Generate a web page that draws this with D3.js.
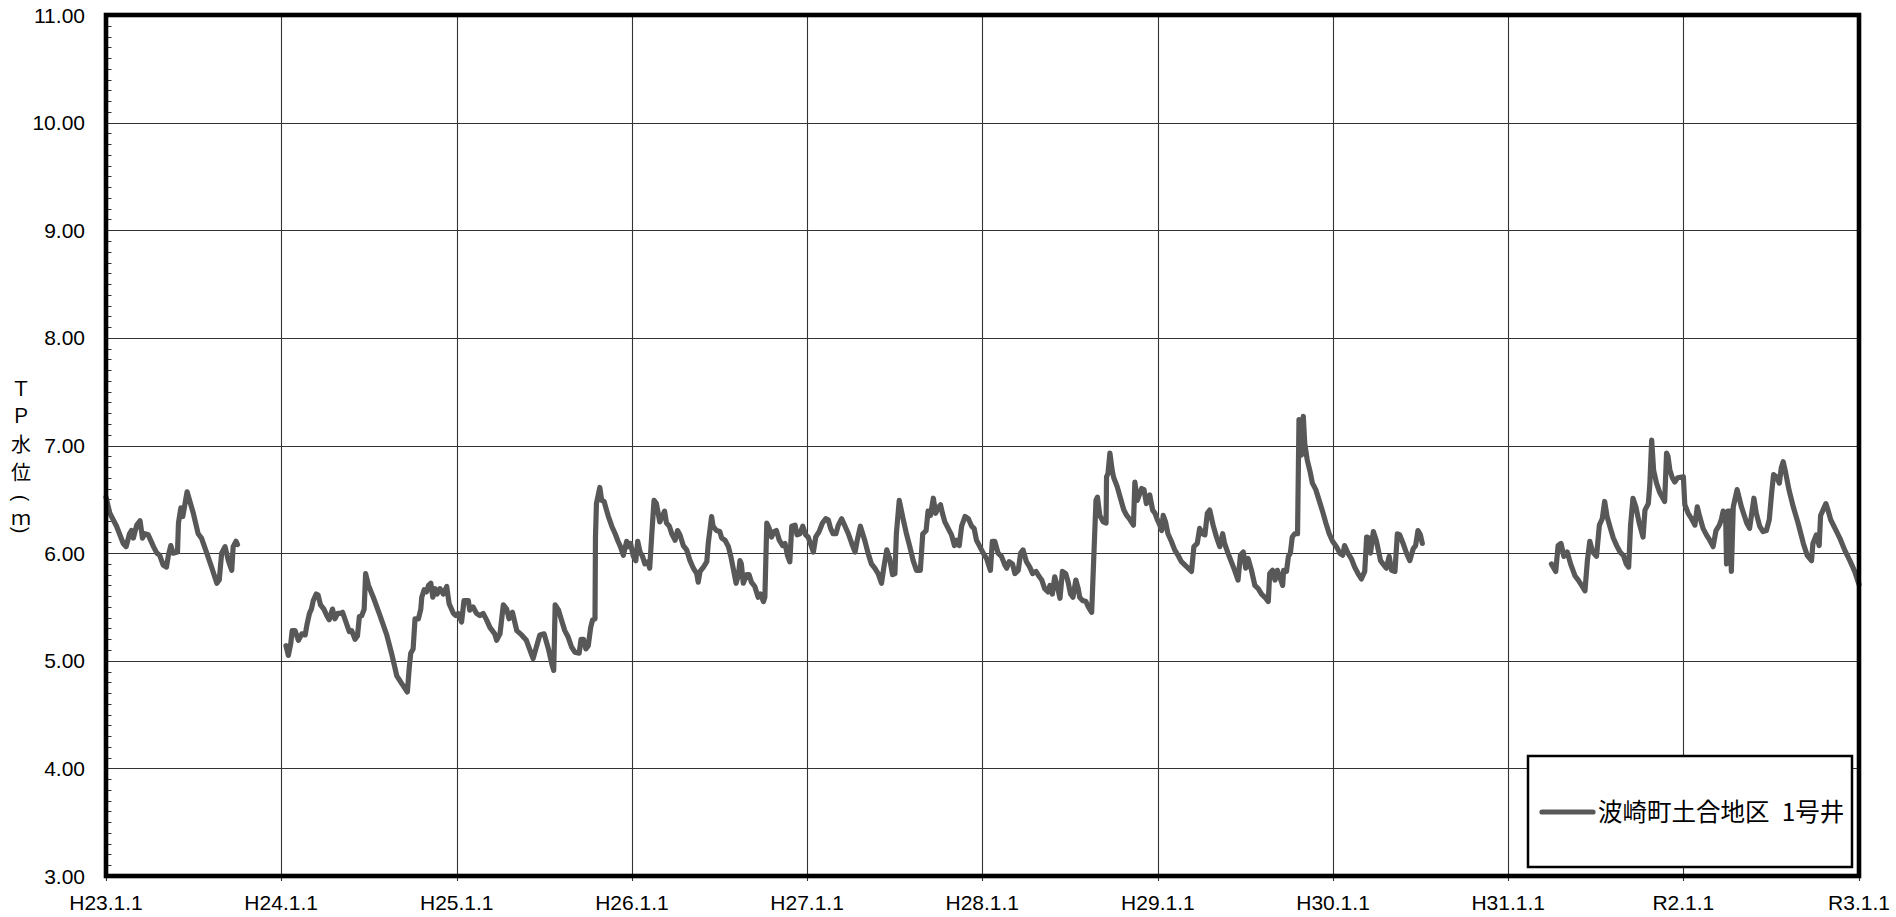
<!DOCTYPE html>
<html><head><meta charset="utf-8">
<script src="https://cdn.jsdelivr.net/npm/d3@7"></script>
<style>html,body{margin:0;padding:0;background:#fff;overflow:hidden}</style>
</head><body><svg id="chart" width="1896" height="917"></svg>
<script>
// ---------------- DATA ----------------
// Observation day = days elapsed since H23.1.1 (2011-01-01)
const startDate = "2011-01-01";
const yearTicks = ["2011-01-01","2012-01-01","2013-01-01","2014-01-01","2015-01-01","2016-01-01",
                   "2017-01-01","2018-01-01","2019-01-01","2020-01-01","2021-01-01"];
const yearLabels = ["H23.1.1","H24.1.1","H25.1.1","H26.1.1","H27.1.1","H28.1.1",
                    "H29.1.1","H30.1.1","H31.1.1","R2.1.1","R3.1.1"];
const yTickValues = [3,4,5,6,7,8,9,10,11];
const seriesName = "波崎町土合地区\u20021号井";
const yTitleChars = ["Ｔ","Ｐ","水","位","(","ｍ",")"];

// Segment 1: H23.1 – H23.10
const seg1Days = [0,8,22,36,42,49,53,57,64,71,76,81,88,99,106,112,119,126,130,135,140,149,151,156,160,169,182,192,199,210,220,231,236,241,248,255,262,265,271,274];
const seg1Levels = [6.52,6.37,6.25,6.09,6.06,6.18,6.21,6.14,6.26,6.30,6.14,6.18,6.17,6.06,6.00,5.98,5.89,5.87,5.98,6.07,6.00,6.01,6.28,6.42,6.34,6.57,6.37,6.18,6.14,6.00,5.87,5.72,5.75,6.00,6.06,5.93,5.84,6.06,6.11,6.08];

// Segment 2: H24.1 – H30.7
const seg2Days = [375,380,385,388,394,401,408,415,419,424,428,432,438,442,447,454,460,465,472,477,483,488,493,500,507,512,519,524,528,533,538,541,547,557,571,585,595,606,616,628,632,635,640,644,651,656,658,663,668,672,677,681,686,690,696,703,710,715,724,729,734,741,746,755,758,765,772,779,786,793,800,810,814,821,828,835,840,847,856,866,876,890,897,904,913,922,929,933,
936,943,949,956,963,970,977,986,990,995,1000,1005,1010,1014,1019,1020,1022,1029,1033,1038,1043,1047,1054,1061,1067,1072,1078,1085,1088,1093,1099,1104,1108,1113,1118,1123,1129,1133,1137,1142,1147,1154,1160,1164,1168,1174,1179,1186,1191,1196,1203,1210,1217,1224,1231,1234,1238,1245,1252,1255,1262,1265,1272,1279,1283,1290,1297,1302,1307,1313,1318,1321,1324,1328,1335,1340,1345,1352,1359,1364,1370,1373,1377,1382,1387,1392,1397,1403,1410,1415,1420,1425,1429,1436,1440,1446,1452,1458,1463,1468,1474,1479,1486,1493,1500,1505,1510,1515,1521,1526,1533,1540,1547,1554,1561,1565,1572,1581,1588,1595,1602,1609,1616,1621,1627,1633,1639,1644,1647,1653,1661,1668,1675,1682,1689,1697,1702,1709,1713,1718,1724,1729,1734,1739,1743,1748,1755,1762,1768,1772,1778,1783,1790,1797,1804,1809,1814,1821,1828,1835,1843,1847,1852,1859,1866,1873,1877,
1882,1889,1894,1901,1906,1911,1918,1925,1931,1938,1945,1950,1956,1963,1967,1972,1977,1982,1988,1993,2000,2005,2010,2015,2021,2026,2029,2035,2042,2047,2054,2059,2063,2066,2071,2078,2084,2085,2088,2092,2097,2100,2107,2114,2121,2127,2134,2141,2144,2149,2153,2158,2163,2168,2175,2181,2186,2191,2196,2200,2203,2208,2213,2220,2227,2234,2241,2248,2255,2262,2267,2274,2279,2285,2290,2295,2300,2307,2314,2321,2327,2331,2338,2345,2352,2359,2364,2370,2375,2380,2387,2394,2401,2408,2415,2422,2425,2431,2436,2441,2446,2452,2454,2460,2464,2468,2472,2477,2483,2486,2491,2495,2498,2503,2509,2514,2521,2528,2535,2542,2549,2556,2564,2571,2577,2581,2588,2595,2602,2609,2616,2623,2627,2632,2635,2641,2647,2656,2661,2668,2674,2679,2686,2691,2696,2703,2710,2717,2724,2729,2734,2739,2743];
const seg2Levels = [5.14,5.05,5.16,5.28,5.28,5.19,5.25,5.24,5.34,5.44,5.48,5.56,5.62,5.61,5.52,5.48,5.42,5.38,5.48,5.39,5.44,5.44,5.45,5.36,5.27,5.28,5.20,5.23,5.41,5.42,5.48,5.81,5.70,5.59,5.42,5.24,5.07,4.86,4.79,4.71,4.94,5.07,5.11,5.39,5.39,5.48,5.59,5.66,5.64,5.70,5.72,5.59,5.67,5.62,5.67,5.62,5.69,5.53,5.44,5.42,5.44,5.36,5.56,5.56,5.47,5.50,5.44,5.42,5.44,5.38,5.31,5.25,5.19,5.25,5.52,5.48,5.39,5.45,5.28,5.24,5.19,5.02,5.13,5.24,5.25,5.11,4.97,4.91,
5.52,5.47,5.38,5.28,5.22,5.13,5.08,5.07,5.20,5.20,5.11,5.14,5.31,5.38,5.39,6.15,6.46,6.61,6.49,6.48,6.40,6.34,6.25,6.18,6.11,6.06,5.98,6.11,6.06,6.09,5.97,5.93,6.11,6.01,5.97,5.90,5.92,5.86,6.15,6.49,6.46,6.29,6.35,6.39,6.28,6.25,6.18,6.12,6.21,6.17,6.07,6.03,5.93,5.86,5.81,5.73,5.83,5.87,5.92,6.09,6.34,6.25,6.21,6.20,6.14,6.12,6.06,5.97,5.86,5.72,5.80,5.93,5.90,5.72,5.80,5.80,5.73,5.69,5.59,5.62,5.55,5.59,6.28,6.23,6.15,6.20,6.21,6.12,6.07,6.09,5.98,5.92,6.25,6.26,6.17,6.18,6.25,6.17,6.15,6.09,6.01,6.15,6.20,6.28,6.32,6.31,6.23,6.18,6.18,6.26,6.32,6.25,6.18,6.09,6.01,6.11,6.25,6.12,6.00,5.90,5.86,5.81,5.72,5.87,6.03,5.95,5.80,5.81,6.18,6.49,6.32,6.18,6.06,5.93,5.84,5.84,6.18,6.21,6.39,6.35,6.51,6.37,6.42,6.45,6.37,6.29,6.23,6.17,6.07,6.12,6.07,6.25,6.34,6.32,6.25,6.23,6.12,6.06,6.00,5.95,5.84,6.11,6.11,6.00,5.97,5.89,5.86,
5.92,5.90,5.81,5.84,6.00,6.03,5.92,5.87,5.81,5.83,5.78,5.75,5.67,5.64,5.70,5.62,5.78,5.70,5.58,5.83,5.81,5.73,5.62,5.59,5.75,5.67,5.59,5.56,5.55,5.50,5.45,6.03,6.49,6.52,6.35,6.29,6.28,6.71,6.74,6.93,6.76,6.70,6.62,6.51,6.40,6.35,6.31,6.26,6.66,6.49,6.54,6.60,6.59,6.46,6.54,6.40,6.37,6.31,6.26,6.21,6.35,6.29,6.18,6.11,6.03,5.98,5.92,5.89,5.86,5.83,6.06,6.09,6.23,6.18,6.17,6.37,6.40,6.26,6.15,6.06,6.18,6.09,6.00,5.92,5.84,5.75,5.98,6.01,5.86,5.95,5.84,5.70,5.67,5.62,5.59,5.55,5.81,5.84,5.75,5.84,5.78,5.70,5.84,5.83,5.97,6.00,6.15,6.18,6.18,7.24,6.91,7.27,7.02,6.87,6.76,6.65,6.59,6.49,6.39,6.28,6.18,6.11,6.06,6.00,5.98,6.07,6.00,5.95,5.87,5.81,5.76,5.83,6.15,6.14,6.00,6.20,6.12,5.93,5.90,5.86,5.97,5.84,5.83,6.18,6.17,6.09,6.00,5.93,6.04,6.07,6.21,6.17,6.09];

// Segment 3: H31.3 – R3.1
const seg3Days = [3012,3021,3026,3032,3038,3045,3052,3061,3068,3075,3082,3087,3092,3098,3106,3112,3118,3123,3128,3135,3141,3148,3155,3162,3168,3173,3177,3182,3188,3195,3203,3207,3214,3217,3221,3225,3231,3238,3248,3252,3255,3259,3264,3269,3275,3287,3290,3297,3304,3311,3316,3321,3328,3335,3342,3349,3355,3362,3366,3370,3375,3377,3380,3384,3387,3391,3399,3408,3419,3425,3434,3439,3446,3453,3460,3466,3471,3475,3481,3487,3491,3495,3500,3507,3516,3526,3537,3545,3554,3557,3564,3570,3573,3578,3584,3589,3594,3603,3613,3623,3634,3644,3653];
const seg3Levels = [5.90,5.83,6.07,6.09,5.97,6.01,5.90,5.79,5.75,5.70,5.65,5.93,6.11,6.01,5.97,6.26,6.32,6.48,6.34,6.23,6.14,6.07,6.01,5.98,5.90,5.87,6.26,6.51,6.43,6.28,6.15,6.40,6.46,6.63,7.05,6.77,6.65,6.56,6.48,6.93,6.90,6.77,6.70,6.66,6.70,6.71,6.45,6.37,6.32,6.26,6.43,6.34,6.23,6.17,6.12,6.06,6.21,6.26,6.31,6.39,6.37,5.90,6.39,6.39,5.83,6.43,6.59,6.43,6.28,6.23,6.51,6.37,6.25,6.20,6.21,6.31,6.56,6.73,6.71,6.65,6.79,6.85,6.75,6.59,6.43,6.28,6.09,5.98,5.93,6.09,6.17,6.07,6.35,6.40,6.46,6.39,6.31,6.23,6.14,6.03,5.93,5.83,5.71];

// ---------------- CHART ----------------
const M = {left:106, top:15, right:1859, bottom:876};
const svg = d3.select("#chart");
const parse = d3.timeParse("%Y-%m-%d");
const t0 = parse(startDate);

const x = d3.scaleTime().domain([parse(yearTicks[0]), parse(yearTicks[yearTicks.length-1])]).range([M.left, M.right]);
const y = d3.scaleLinear().domain([3, 11]).range([M.bottom, M.top]);

const segments = [[seg1Days, seg1Levels],[seg2Days, seg2Levels],[seg3Days, seg3Levels]]
  .map(([ds, vs]) => ds.map((d,i) => ({date: d3.timeDay.offset(t0, d), v: vs[i]})));

const textFont = "'Liberation Sans', Arial, sans-serif";
const cjkFont = "'Noto Sans CJK JP', 'Noto Sans CJK SC', sans-serif";

// gridlines
const grid = svg.append("g");
grid.selectAll("line.h").data(yTickValues).join("line")
  .attr("x1", M.left).attr("x2", M.right)
  .attr("y1", d => Math.round(y(d)) + 0.5).attr("y2", d => Math.round(y(d)) + 0.5)
  .attr("stroke", "#333").attr("stroke-width", 1.1);
grid.selectAll("line.v").data(yearTicks).join("line")
  .attr("x1", d => Math.round(x(parse(d))) + 0.5).attr("x2", d => Math.round(x(parse(d))) + 0.5)
  .attr("y1", M.top).attr("y2", M.bottom + 5)
  .attr("stroke", "#333").attr("stroke-width", 1.1);

// minor y ticks (every 0.1)
const minor = d3.range(30, 111).map(k => k/10).filter(v => Math.abs(v - Math.round(v)) > 1e-6);
svg.append("g").selectAll("line").data(minor).join("line")
  .attr("x1", M.left).attr("x2", M.left + 5.5)
  .attr("y1", d => Math.round(y(d)) + 0.5).attr("y2", d => Math.round(y(d)) + 0.5)
  .attr("stroke", "#333").attr("stroke-width", 1);

// series
const line = d3.line().x(d => x(d.date)).y(d => y(d.v)).defined(d => d.v != null);
svg.append("g").selectAll("path").data(segments).join("path")
  .attr("d", line).attr("fill", "none")
  .attr("stroke", "#585858").attr("stroke-width", 5.2)
  .attr("stroke-linejoin", "round").attr("stroke-linecap", "round");

// frame
svg.append("rect").attr("x", M.left).attr("y", M.top)
  .attr("width", M.right - M.left).attr("height", M.bottom - M.top)
  .attr("fill", "none").attr("stroke", "#000").attr("stroke-width", 4.6);

// y labels
svg.append("g").selectAll("text").data(yTickValues).join("text")
  .attr("x", 85).attr("y", d => y(d)).attr("dy", "0.36em")
  .attr("text-anchor", "end").attr("font-family", textFont).attr("font-size", 21)
  .attr("fill", "#000").text(d => d3.format(".2f")(d));

// x labels
svg.append("g").selectAll("text").data(yearTicks).join("text")
  .attr("x", d => x(parse(d))).attr("y", 910)
  .attr("text-anchor", "middle").attr("font-family", textFont).attr("font-size", 21)
  .attr("fill", "#000").text((d,i) => yearLabels[i]);

// y title (vertical)
const titleY = [389, 416, 445, 473, 498, 518, 530];
const tg = svg.append("g");
yTitleChars.forEach((c, i) => {
  const isParen = c === "(" || c === ")";
  tg.append("text")
    .attr("x", 0).attr("y", 0)
    .attr("transform", isParen ? `translate(21,${titleY[i]}) rotate(90)` : `translate(21,${titleY[i]})`)
    .attr("dy", "0.36em")
    .attr("text-anchor", "middle")
    .attr("font-family", isParen ? textFont : cjkFont)
    .attr("font-size", 20).attr("fill", "#000").text(c);
});

// legend
const lg = svg.append("g");
lg.append("rect").attr("x", 1528).attr("y", 756).attr("width", 324).attr("height", 111)
  .attr("fill", "#fff").attr("stroke", "#000").attr("stroke-width", 2.5);
lg.append("line").attr("x1", 1542).attr("x2", 1593).attr("y1", 812).attr("y2", 812)
  .attr("stroke", "#585858").attr("stroke-width", 5.2).attr("stroke-linecap", "round");
lg.append("text").attr("x", 1598).attr("y", 812).attr("dy", "0.36em")
  .attr("font-family", cjkFont).attr("font-size", 24.5).attr("fill", "#000").text(seriesName);
</script>
</body></html>
